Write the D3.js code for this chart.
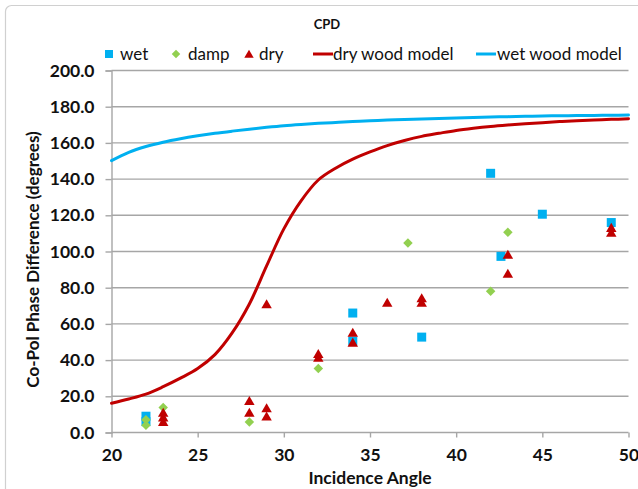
<!DOCTYPE html>
<html>
<head>
<meta charset="utf-8">
<script src="https://cdn.jsdelivr.net/npm/d3@7/dist/d3.min.js"></script>
<style>
  html, body { margin: 0; padding: 0; background: #fff; }
  svg { display: block; }
  text { font-family: "Lato", "Open Sans", "Liberation Sans", sans-serif; fill: #111; }
</style>
</head>
<body>
<svg id="chart" width="638" height="489"></svg>
<script>
// Measured co-pol phase difference (degrees) by incidence angle
const wetAngle  = [22, 22, 34, 34, 38, 42, 42.6, 45, 49];
const wetValue  = [9, 6, 66, 50.5, 52.7, 143.2, 97.3, 120.6, 116];

const dampAngle = [22, 22, 23, 28, 32, 37.2, 42, 43];
const dampValue = [7, 4, 13.8, 5.8, 35.4, 104.7, 78, 110.6];

const dryAngle  = [23, 23, 23, 28, 28, 29, 29, 29, 32, 32, 34, 34, 36, 38, 38, 43, 43, 49, 49];
const dryValue  = [11, 8.5, 6, 17.5, 11, 71, 13.5, 9, 43.5, 41.5, 55.2, 49.8, 71.8, 74.3, 71.8, 98.4, 87.8, 113.2, 110.5];

// Model curves
const modelAngle = [20, 21, 22, 23, 24, 25, 26, 27, 28, 29, 30, 31, 32, 33, 34, 35,
                    36, 37, 38, 39, 40, 41, 42, 43, 44, 45, 46, 47, 48, 49, 50];
const dryModel   = [16.2, 18.5, 21.2, 25.3, 30, 35.3, 43, 55, 71, 92, 112.5, 128, 139.5, 146, 151, 155,
                    158.5, 161.3, 163.6, 165.3, 166.9, 168.1, 169.1, 169.9, 170.6, 171.2, 171.8, 172.3, 172.7, 173, 173.3];
const wetModel   = [150.2, 154.8, 158, 160.4, 162.3, 163.9, 165.3, 166.5, 167.6, 168.6, 169.5, 170.2, 170.8, 171.3, 171.8, 172.2,
                    172.6, 172.9, 173.2, 173.5, 173.8, 174.1, 174.3, 174.5, 174.7, 174.9, 175, 175.1, 175.2, 175.3, 175.4];

const angleTicks = [20, 25, 30, 35, 40, 45, 50];
const valueTicks = [0, 20, 40, 60, 80, 100, 120, 140, 160, 180, 200];

const chartTitle = "CPD";
const xTitle = "Incidence Angle";
const yTitle = "Co-Pol Phase Difference (degrees)";
const legendLabels = ["wet", "damp", "dry", "dry wood model", "wet wood model"];

const BLUE = "#00B0F0", GREEN = "#92D050", RED = "#C00000", GRID = "#a6a6a6";

const svg = d3.select("#chart");

// Chart frame
svg.append("rect")
  .attr("x", 5.5).attr("y", 5.5).attr("width", 650).attr("height", 520)
  .attr("rx", 6).attr("fill", "#fff").attr("stroke", "#d0d0d0").attr("stroke-width", 1.2);

const x = d3.scaleLinear().domain([20, 50]).range([111.5, 628.5]);
const y = d3.scaleLinear().domain([0, 200]).range([432.5, 70.5]);

// Horizontal gridlines
svg.append("g").selectAll("line")
  .data(valueTicks.filter(v => v > 0))
  .join("line")
  .attr("x1", x(20)).attr("x2", x(50))
  .attr("y1", d => y(d)).attr("y2", d => y(d))
  .attr("stroke", GRID).attr("stroke-width", 1.4);

// Axes
const yAxis = svg.append("g")
  .attr("transform", `translate(${x(20)},0)`)
  .call(d3.axisLeft(y).tickValues(valueTicks).tickFormat(d3.format(".1f")).tickSize(6).tickPadding(11));
const xAxis = svg.append("g")
  .attr("transform", `translate(0,${y(0)})`)
  .call(d3.axisBottom(x).tickValues(angleTicks).tickFormat(d3.format("d")).tickSize(5).tickPadding(11));

[yAxis, xAxis].forEach(g => {
  g.select(".domain").attr("stroke", GRID).attr("stroke-width", 1.4);
  g.selectAll(".tick line").attr("stroke", GRID).attr("stroke-width", 1.4);
  g.selectAll(".tick text")
    .attr("fill", "#111")
    .style("font-family", '"Lato", "Open Sans", sans-serif')
    .style("font-size", "17.5px").style("font-weight", "bold");
});
xAxis.select(".domain").attr("d", `M${x(20)},0H${x(50)}`);

// Marker shapes
const squarePath   = s => `M${-s/2},${-s/2}h${s}v${s}h${-s}Z`;
const diamondPath  = s => `M0,${-s/2}L${s/2},0L0,${s/2}L${-s/2},0Z`;
const trianglePath = s => `M0,${-s*0.5}L${s*0.55},${s*0.45}L${-s*0.55},${s*0.45}Z`;

function drawSeries(angles, values, pathFn, size, color) {
  svg.append("g").selectAll("path")
    .data(angles.map((a, i) => [a, values[i]]))
    .join("path")
    .attr("transform", d => `translate(${x(d[0])},${y(d[1])})`)
    .attr("d", pathFn(size))
    .attr("fill", color);
}

drawSeries(wetAngle, wetValue, squarePath, 9, BLUE);
drawSeries(dampAngle, dampValue, diamondPath, 9.5, GREEN);
drawSeries(dryAngle, dryValue, trianglePath, 9.5, RED);

// Model lines (smoothed)
const line = d3.line().x(d => x(d[0])).y(d => y(d[1])).curve(d3.curveCatmullRom.alpha(0.5));
svg.append("path")
  .attr("d", line(modelAngle.map((a, i) => [a, dryModel[i]])))
  .attr("fill", "none").attr("stroke", RED).attr("stroke-width", 3).attr("stroke-linecap", "round");
svg.append("path")
  .attr("d", line(modelAngle.map((a, i) => [a, wetModel[i]])))
  .attr("fill", "none").attr("stroke", BLUE).attr("stroke-width", 3).attr("stroke-linecap", "round");

// Titles
svg.append("text")
  .attr("x", 327).attr("y", 29).attr("text-anchor", "middle")
  .style("font-size", "13px").style("font-weight", "bold")
  .text(chartTitle);

svg.append("text")
  .attr("x", (x(20) + x(50)) / 2).attr("y", 484).attr("text-anchor", "middle")
  .style("font-size", "17.5px").style("font-weight", "bold")
  .text(xTitle);

svg.append("text")
  .attr("transform", `translate(39,${(y(0) + y(200)) / 2 + 8}) rotate(-90)`)
  .attr("text-anchor", "middle")
  .style("font-size", "17px").style("font-weight", "bold")
  .text(yTitle);

// Legend
const legendY = 54;
const legend = svg.append("g");
const legendItems = [
  { kind: "square",   color: BLUE,  mx: 109, tx: 120 },
  { kind: "diamond",  color: GREEN, mx: 176, tx: 188 },
  { kind: "triangle", color: RED,   mx: 249, tx: 259 },
  { kind: "line",     color: RED,   mx: 313, tx: 333 },
  { kind: "line",     color: BLUE,  mx: 476, tx: 497 }
];
legendItems.forEach((it, i) => {
  if (it.kind === "line") {
    legend.append("line")
      .attr("x1", it.mx).attr("x2", it.mx + 20)
      .attr("y1", legendY).attr("y2", legendY)
      .attr("stroke", it.color).attr("stroke-width", 3);
  } else {
    const fn = it.kind === "square" ? squarePath : it.kind === "diamond" ? diamondPath : trianglePath;
    legend.append("path")
      .attr("transform", `translate(${it.mx},${legendY})`)
      .attr("d", fn(it.kind === "square" ? 8 : 8.5))
      .attr("fill", it.color);
  }
  legend.append("text")
    .attr("x", it.tx).attr("y", legendY + 6)
    .style("font-size", "17px")
    .text(legendLabels[i]);
});
</script>
</body>
</html>
